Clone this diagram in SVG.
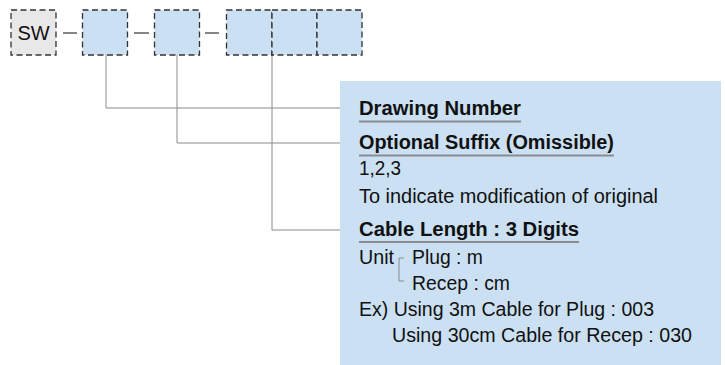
<svg xmlns="http://www.w3.org/2000/svg" width="725" height="365" viewBox="0 0 725 365">
<style>
.box{stroke:#333;stroke-width:1.3;stroke-dasharray:6 3.5}
.blue{fill:#cbe0f3}
.gray{fill:#e8e8e8}
.conn{stroke:#8a8a8a;stroke-width:1;fill:none}
.dash{stroke:#333;stroke-width:1.2}
.ul{stroke:#8a8c90;stroke-width:2}
text{font-family:"Liberation Sans",Arial,sans-serif;font-size:19.5px;fill:#111}
.b{font-weight:bold}
.sw{font-size:20px}
</style>
<rect x="0" y="0" width="725" height="365" fill="#fff"/>
<rect x="340" y="81" width="381" height="284" class="blue"/>
<g id="connectors">
<polyline class="conn" points="106,55 106,108 340,108"/>
<polyline class="conn" points="177,55 177,143 340,143"/>
<polyline class="conn" points="272,55 272,230 340,230"/>
<line class="dash" x1="63" y1="33" x2="77" y2="33"/>
<line class="dash" x1="134" y1="33" x2="149" y2="33"/>
<line class="dash" x1="205" y1="33" x2="219" y2="33"/>
</g>
<g id="node-sw"><rect x="11" y="10" width="45" height="45" class="box gray"/><text class="sw" x="33.5" y="39.5" text-anchor="middle">SW</text></g>
<g id="node-drawing"><rect x="82.5" y="10" width="45" height="45" class="box blue"/></g>
<g id="node-suffix"><rect x="154.5" y="10" width="45" height="45" class="box blue"/></g>
<g id="node-len1"><rect x="226.5" y="10" width="45.5" height="45" class="box blue"/></g>
<g id="node-len2"><rect x="272" y="10" width="45" height="45" class="box blue"/></g>
<g id="node-len3"><rect x="317" y="10" width="45" height="45" class="box blue"/></g>
<g id="panel">
<text class="b" x="359" y="114.5" textLength="162" lengthAdjust="spacingAndGlyphs">Drawing Number</text>
<line class="ul" x1="359" y1="121.5" x2="521" y2="121.5"/>
<text class="b" x="359" y="149" textLength="255" lengthAdjust="spacingAndGlyphs">Optional Suffix (Omissible)</text>
<line class="ul" x1="359" y1="155.5" x2="614" y2="155.5"/>
<text x="359" y="175" textLength="42" lengthAdjust="spacingAndGlyphs">1,2,3</text>
<text x="359" y="203" textLength="299" lengthAdjust="spacingAndGlyphs">To indicate modification of original</text>
<text class="b" x="359" y="236" textLength="220" lengthAdjust="spacingAndGlyphs">Cable Length : 3 Digits</text>
<line class="ul" x1="359" y1="242" x2="579" y2="242"/>
<text x="359" y="263.5" textLength="35" lengthAdjust="spacingAndGlyphs">Unit</text>
<polyline class="conn" points="404,258 399,258 399,281 404,281"/>
<text x="412" y="263.5" textLength="71" lengthAdjust="spacingAndGlyphs">Plug : m</text>
<text x="412" y="290" textLength="98" lengthAdjust="spacingAndGlyphs">Recep : cm</text>
<text x="359" y="315.5" textLength="295" lengthAdjust="spacingAndGlyphs">Ex) Using 3m Cable for Plug : 003</text>
<text x="392" y="341.5" textLength="300" lengthAdjust="spacingAndGlyphs">Using 30cm Cable for Recep : 030</text>
</g>
</svg>
